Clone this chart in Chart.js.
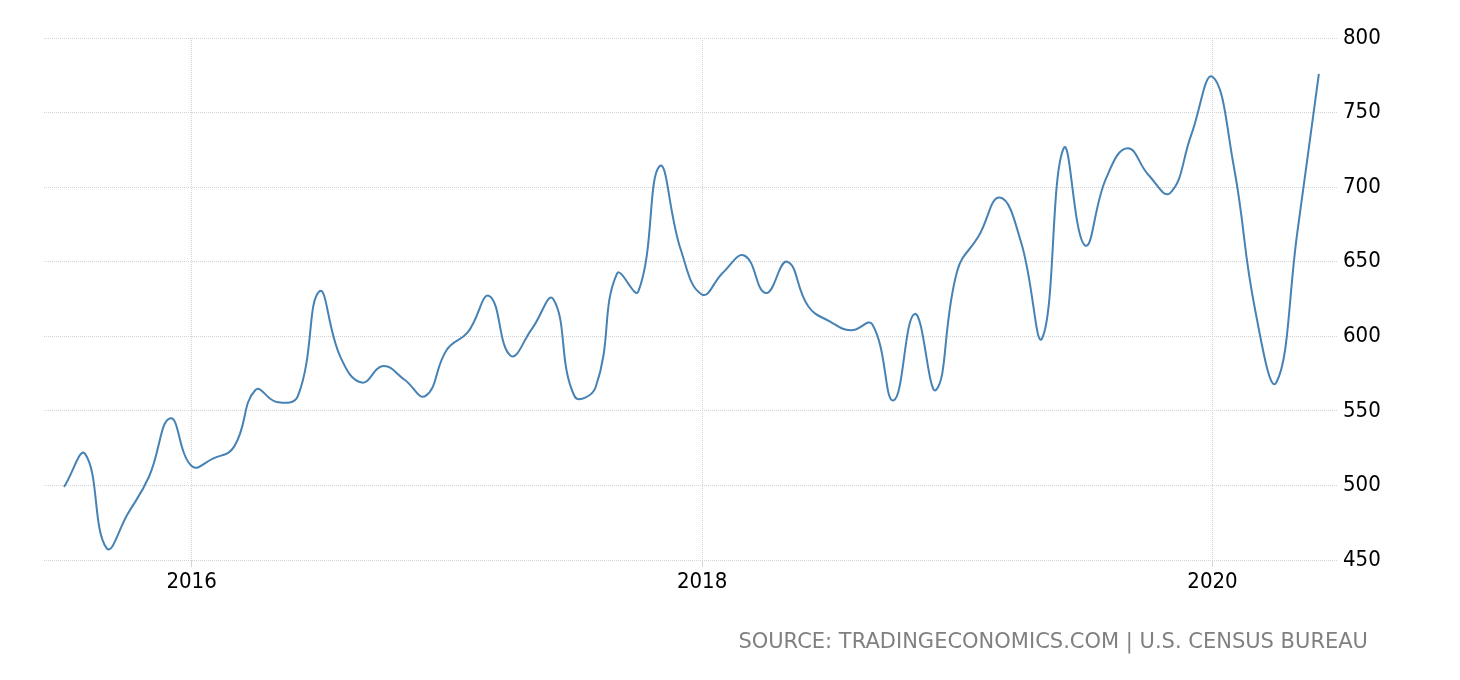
<!DOCTYPE html>
<html>
<head>
<meta charset="utf-8">
<script src="https://cdn.jsdelivr.net/npm/chart.js@4/dist/chart.umd.min.js"></script>
<style>
  html, body { margin: 0; padding: 0; background: #fff; }
  #wrap { position: relative; width: 1460px; height: 680px; }
  #source {
    position: absolute; right: 92px; top: 631px;
    font-family: "DejaVu Sans", sans-serif;
    font-size: 21px; line-height: 1; color: #808080; white-space: nowrap;
  }
</style>
</head>
<body>
<div id="wrap">
  <canvas id="chart" width="1460" height="680"></canvas>
  <div id="source">SOURCE: TRADINGECONOMICS.COM | U.S. CENSUS BUREAU</div>
</div>
<script>
// monthly, Jul 2015 .. Jun 2020 (thousands of units)
const months = [
  '2015-07','2015-08','2015-09','2015-10','2015-11','2015-12',
  '2016-01','2016-02','2016-03','2016-04','2016-05','2016-06',
  '2016-07','2016-08','2016-09','2016-10','2016-11','2016-12',
  '2017-01','2017-02','2017-03','2017-04','2017-05','2017-06',
  '2017-07','2017-08','2017-09','2017-10','2017-11','2017-12',
  '2018-01','2018-02','2018-03','2018-04','2018-05','2018-06',
  '2018-07','2018-08','2018-09','2018-10','2018-11','2018-12',
  '2019-01','2019-02','2019-03','2019-04','2019-05','2019-06',
  '2019-07','2019-08','2019-09','2019-10','2019-11','2019-12',
  '2020-01','2020-02','2020-03','2020-04','2020-05','2020-06'
];
const sales = [
  499, 521, 458, 481, 506, 545,
  513, 518, 526, 564, 556, 560,
  630, 586, 569, 580, 571, 560,
  591, 603, 627, 587, 605, 625,
  560, 566, 642, 630, 714, 658,
  628, 643, 654, 629, 650, 620,
  610, 604, 608, 557, 615, 564,
  644, 667, 693, 663, 599, 726,
  661, 706, 726, 708, 696, 735,
  774, 714, 618, 569, 671, 776
];
const yearTicks = ['2016', '2018', '2020'];
const yTicks = [450, 500, 550, 600, 650, 700, 750, 800];

const points = sales.map((v, i) => ({ x: i, y: v }));
const yearIdx = yearTicks.map(y => months.indexOf(y + '-01'));

const FONT = '"DejaVu Sans Condensed", "DejaVu Sans", sans-serif';

new Chart(document.getElementById('chart'), {
  type: 'line',
  data: {
    datasets: [{
      data: points,
      borderColor: '#4682b4',
      borderWidth: 2,
      pointRadius: 0,
      tension: 0.45,
      fill: false
    }]
  },
  options: {
    responsive: false,
    animation: false,
    devicePixelRatio: 1,
    layout: { padding: { left: 44, top: 38, right: 0, bottom: 0 } },
    plugins: { legend: { display: false }, tooltip: { enabled: false } },
    scales: {
      x: {
        type: 'linear',
        min: -0.94,
        max: 59.9,
        afterBuildTicks: s => { s.ticks = yearIdx.map(v => ({ value: v })); },
        afterFit: s => { s.height = 120; },
        ticks: {
          callback: v => months[v].slice(0, 4),
          color: '#000',
          font: { family: FONT, size: 22 },
          padding: 2,
          maxRotation: 0
        },
        grid: {
          color: '#d4d4d4',
          lineWidth: 1,
          drawTicks: true,
          tickLength: 7,
          tickBorderDash: [],
          tickColor: '#d4d4d4'
        },
        border: { display: false, dash: [1, 1] }
      },
      y: {
        position: 'right',
        min: 450,
        max: 800,
        afterBuildTicks: s => { s.ticks = yTicks.map(v => ({ value: v })); },
        afterFit: s => { s.width = 122; },
        ticks: {
          color: '#000',
          font: { family: FONT, size: 22 },
          padding: 5
        },
        grid: {
          color: '#d4d4d4',
          lineWidth: 1,
          drawTicks: false
        },
        border: { display: false, dash: [1, 1] }
      }
    }
  }
});
</script>
</body>
</html>
